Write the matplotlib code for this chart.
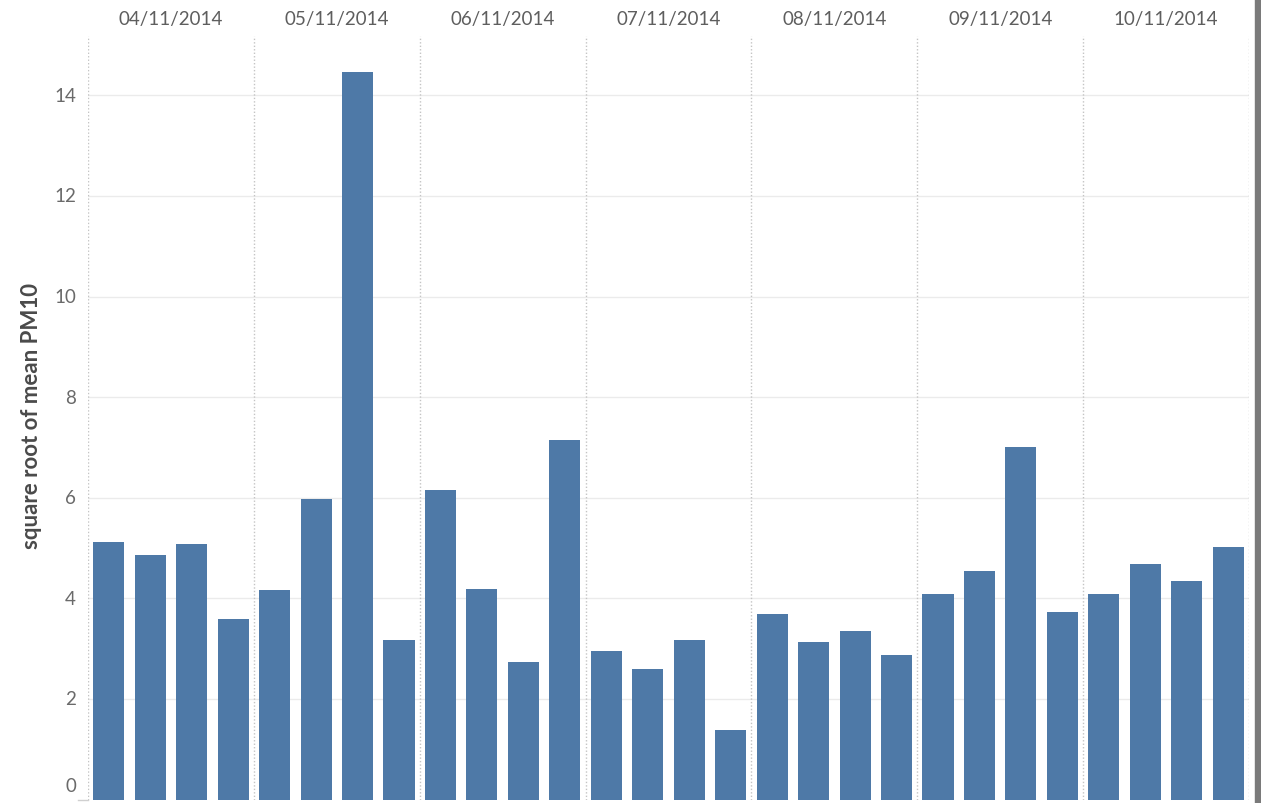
import matplotlib
matplotlib.use("Agg")
import matplotlib.pyplot as plt
from matplotlib.patches import Rectangle
from matplotlib.transforms import ScaledTranslation, blended_transform_factory
import numpy as np

dates = ["04/11/2014", "05/11/2014", "06/11/2014", "07/11/2014",
         "08/11/2014", "09/11/2014", "10/11/2014"]
bars_per_day = 4
values = [5.12, 4.86, 5.08, 3.59,
          4.16, 5.97, 14.46, 3.17,
          6.15, 4.18, 2.73, 7.15,
          2.95, 2.59, 3.17, 1.38,
          3.69, 3.13, 3.35, 2.87,
          4.09, 4.54, 7.00, 3.73,
          4.09, 4.68, 4.34, 5.02]
yticks = [0, 2, 4, 6, 8, 10, 12, 14]
ylabel = "square root of mean PM10"

plt.rcParams['font.family'] = ['Lato', 'DejaVu Sans']

W, H = 1261, 804
fig = plt.figure(figsize=(W / 100, H / 100), dpi=100)
ax = fig.add_axes([88 / W, (H - 800.5) / H, (1249 - 88) / W, (800.5 - 37) / H])

n = len(values)
x = np.arange(n)
ax.bar(x, values, width=0.75, color="#4e79a7", zorder=3)
ax.set_xlim(-0.5, n - 0.5)
ax.set_ylim(0, 15.18)

# gridlines
for t in yticks[1:]:
    ax.axhline(t, color="#ebebeb", lw=1.0, zorder=1)

# panel separators
for k in range(len(dates) + 1):
    ax.axvline(k * bars_per_day - 0.5, color="#c4c4c4", lw=1.0,
               linestyle=(0, (1, 1.5)), zorder=2)

for s in ax.spines.values():
    s.set_visible(False)
ax.set_xticks([])
ax.set_yticks([])

# y tick labels (Tableau-style, bottom label nudged up)
pad = ScaledTranslation(-12 / 100, 0, fig.dpi_scale_trans)
for t in yticks:
    y = t if t > 0 else 0.28
    ax.text(0, y, str(t), transform=ax.get_yaxis_transform() + pad,
            ha="right", va="center", fontsize=13.5, color="#6a6a6a")

# date headers
hdr_tr = blended_transform_factory(ax.transData, fig.transFigure)
for i, d in enumerate(dates):
    cx = i * bars_per_day + (bars_per_day - 1) / 2
    ax.text(cx, (H - 20) / H, d, transform=hdr_tr, ha="center",
            va="center", fontsize=13.5, color="#5e5e5e")

fig.text(32 / W, (H - 416) / H, ylabel, rotation=90, ha="center", va="center",
         fontsize=16, fontweight="bold", color="#4a4a4a")

# small tick at bottom-left
fig.add_artist(plt.Line2D([78 / W, 88 / W], [(H - 801) / H] * 2, color="#d0d0d0", lw=1))

# right-hand border bar
fig.add_artist(Rectangle((1255 / W, 0), 6 / W, 1, transform=fig.transFigure,
                         color="#7a7a7a"))

fig.savefig("out.png", dpi=100)
